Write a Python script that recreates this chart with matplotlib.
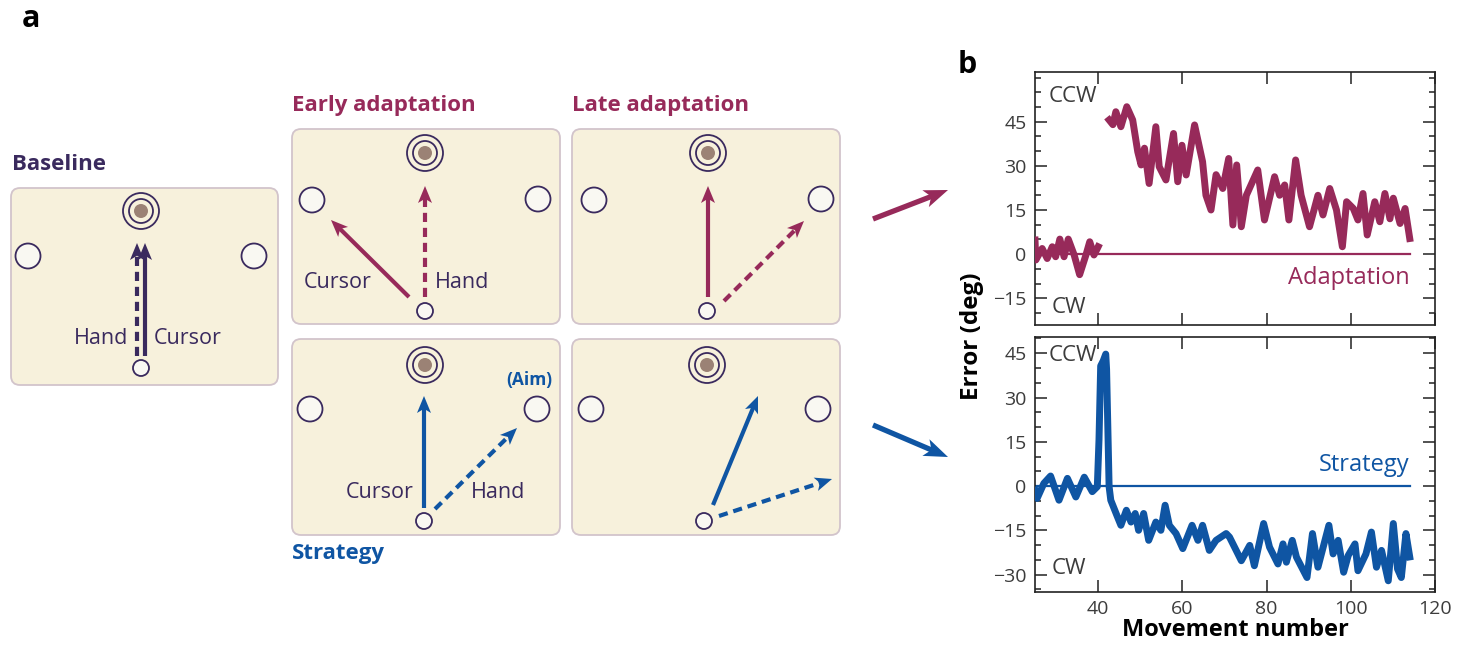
import matplotlib
matplotlib.use("Agg")
import matplotlib.pyplot as plt
import numpy as np
from matplotlib.patches import FancyBboxPatch, Circle, Polygon
from matplotlib.ticker import MultipleLocator

plt.rcParams['font.family'] = ['Open Sans', 'DejaVu Sans']

# ---------------- data (panel b) ----------------
adapt_base_x = [25.0, 25.2, 26.7, 27.9, 29.1, 29.9, 30.9, 31.9, 32.9, 34.3, 35.6, 37.1, 38.0, 39.0, 39.8, 40.0]
adapt_base_y = [4.8, -2.0, 1.9, -1.5, 2.5, -0.9, 5.1, -0.9, 5.1, -0.3, -7.0, -0.3, 4.2, -0.3, 1.9, 2.5]

adapt_x = [42.6, 43.5, 44.2, 45.4, 46.8, 48.2, 49.4, 50.2, 51.0, 52.1, 53.7, 54.5, 56.1, 57.9, 58.9,
           59.9, 60.9, 62.9, 64.8, 65.6, 66.8, 68.0, 69.6, 71.0, 72.0, 72.9, 74.0, 75.2, 77.9,
           79.5, 81.9, 83.1, 84.3, 85.3, 86.9, 88.2, 90.2, 92.2, 93.4, 95.0, 96.6, 98.0, 99.0,
           100.6, 101.7, 102.9, 103.9, 105.7, 106.9, 108.1, 109.3, 110.1, 111.7, 112.9, 114.0]
adapt_y = [45.6, 44.0, 48.4, 43.3, 50.1, 45.6, 34.8, 30.3, 36.0, 24.0, 43.3, 29.7, 25.2, 41.0, 24.6,
           37.0, 26.9, 43.9, 31.4, 20.0, 15.0, 27.0, 22.3, 32.5, 9.9, 30.3, 9.3, 20.0, 28.6,
           11.6, 26.3, 20.0, 23.5, 11.6, 32.0, 20.0, 9.3, 20.0, 13.3, 22.3, 15.0, 2.5, 17.8,
           15.5, 11.6, 20.6, 6.5, 17.8, 11.0, 20.6, 12.0, 19.0, 10.4, 15.5, 5.3]

strat_x = [25.0, 25.5, 27.1, 28.7, 30.7, 32.7, 34.7, 36.7, 38.6, 39.8, 40.2, 40.6, 41.2, 41.8, 42.0,
           42.6, 43.0, 44.6, 45.4, 46.7, 47.8, 48.8, 49.6, 50.8, 52.0, 53.7, 54.9, 55.9, 56.9,
           58.5, 60.1, 62.3, 63.7, 64.8, 66.4, 68.0, 70.4, 71.2, 73.2, 74.0, 76.0, 77.1, 79.3,
           80.7, 82.7, 83.9, 84.7, 86.1, 87.1, 89.6, 90.9, 92.2, 94.8, 95.8, 97.0, 98.3, 99.4,
           101.0, 101.7, 103.6, 104.9, 106.1, 107.3, 108.9, 110.1, 111.1, 112.0, 113.1, 114.0]
strat_y = [-1.4, -4.2, 0.9, 3.4, -4.8, 2.6, -3.7, 3.0, -1.9, -0.2, 15.7, 40.7, 42.4, 44.7, 39.6,
           -0.2, -4.8, -10.5, -13.3, -8.2, -12.2, -9.3, -15.0, -9.3, -18.4, -12.2, -15.0, -6.5, -13.3,
           -16.1, -21.2, -13.3, -18.4, -13.3, -21.8, -18.4, -16.1, -17.3, -23.0, -25.3, -20.1, -27.0, -12.7,
           -20.7, -26.4, -19.6, -25.8, -18.4, -24.1, -31.0, -16.1, -27.5, -13.3, -23.0, -18.4, -29.2, -23.5,
           -19.6, -28.7, -23.0, -15.6, -27.5, -21.8, -32.1, -12.7, -28.1, -31.0, -16.1, -24.0]

zero_x = [25, 114]
zero_y = [0, 0]

top_yticks = [-15, 0, 15, 30, 45]
bot_yticks = [-30, -15, 0, 15, 30, 45]
xticks = [40, 60, 80, 100, 120]

# ---------------- colours ----------------
PURPLE = '#3a2a5e'
MAROON = '#972a5a'
BLUE = '#0f55a3'
BOXFILL = '#f7f1dc'
BOXEDGE = '#d2c4cb'
CIRCFILL = '#f9f8f2'
BROWN = '#9b8275'
GRAY = '#3c3c3c'

W, H = 1459, 652
fig = plt.figure(figsize=(W / 100, H / 100), dpi=100)

# ---------------- panel a (diagram, pixel coordinates) ----------------
axa = fig.add_axes([0, 0, 1, 1])
axa.set_xlim(0, W)
axa.set_ylim(H, 0)
axa.set_axis_off()


def arrow(ax, x0, y0, x1, y1, color, dashed=False, lw=3.0, hl=17, hw=14):
    d = np.array([x1 - x0, y1 - y0], float)
    L = np.hypot(*d)
    u = d / L
    n = np.array([-u[1], u[0]])
    tip = np.array([x1, y1], float)
    base = tip - u * hl
    send = tip - u * hl * 0.7
    if dashed:
        ax.plot([x0, send[0]], [y0, send[1]], color=color, lw=lw, dashes=(2.2, 1.4),
                solid_capstyle='butt', dash_capstyle='butt', zorder=4)
    else:
        ax.plot([x0, send[0]], [y0, send[1]], color=color, lw=lw,
                solid_capstyle='butt', zorder=4)
    notch = tip - u * hl * 0.75
    pts = [tip, base + n * hw / 2, notch, base - n * hw / 2]
    ax.add_patch(Polygon(pts, closed=True, facecolor=color, edgecolor='none', zorder=5))


def box(ax, x0, y0, x1, y1):
    ax.add_patch(FancyBboxPatch((x0, y0), x1 - x0, y1 - y0,
                                boxstyle="round,pad=0,rounding_size=9",
                                facecolor=BOXFILL, edgecolor=BOXEDGE, lw=1.3, zorder=1))


def target(ax, x, y):
    ax.add_patch(Circle((x, y), 18, facecolor=BOXFILL, edgecolor=PURPLE, lw=1.3, zorder=2))
    ax.add_patch(Circle((x, y), 12, facecolor=BOXFILL, edgecolor=PURPLE, lw=1.3, zorder=2))
    ax.add_patch(Circle((x, y), 7, facecolor=BROWN, edgecolor='none', zorder=3))


def side(ax, x, y, r=12.5):
    ax.add_patch(Circle((x, y), r, facecolor=CIRCFILL, edgecolor=PURPLE, lw=1.3, zorder=2))


panels = [
    dict(box=(11, 188, 278, 385), tgt=(141, 211), sl=(28, 256), sr=(254, 256), st=(141, 368)),
    dict(box=(292, 129, 560, 324), tgt=(425, 153), sl=(312, 200), sr=(538, 199), st=(425, 311)),
    dict(box=(572, 129, 840, 324), tgt=(708, 153), sl=(594, 200), sr=(821, 199), st=(707, 311)),
    dict(box=(292, 339, 560, 535), tgt=(425, 365), sl=(310, 409), sr=(537, 409), st=(424, 521)),
    dict(box=(572, 339, 840, 535), tgt=(707, 365), sl=(591, 409), sr=(818, 409), st=(704, 521)),
]
for p in panels:
    box(axa, *p['box'])
    target(axa, *p['tgt'])
    side(axa, *p['sl'])
    side(axa, *p['sr'])
    side(axa, *p['st'], r=8)

arrow(axa, 137, 356, 137, 243, PURPLE, dashed=True)
arrow(axa, 145, 356, 145, 243, PURPLE)
arrow(axa, 425, 297, 425, 186, MAROON, dashed=True)
arrow(axa, 409, 297, 331, 220, MAROON)
arrow(axa, 708, 297, 708, 186, MAROON)
arrow(axa, 724, 301, 804, 221, MAROON, dashed=True)
arrow(axa, 424, 508, 424, 396, BLUE)
arrow(axa, 435, 509, 517, 428, BLUE, dashed=True)
arrow(axa, 713, 505, 758, 396, BLUE)
arrow(axa, 719, 516, 832, 479, BLUE, dashed=True)
arrow(axa, 873, 219, 948, 190, MAROON, lw=3.8, hl=24, hw=18)
arrow(axa, 873, 425, 948, 457, BLUE, lw=3.8, hl=24, hw=18)

TFS = 16
LFS = 15.5
axa.text(22, 19, 'a', fontsize=22, fontweight='bold', color='black', va='center', ha='left')
axa.text(12, 165, 'Baseline', fontsize=TFS, fontweight='bold', color=PURPLE, va='center')
axa.text(292, 105, 'Early adaptation', fontsize=TFS, fontweight='bold', color=MAROON, va='center')
axa.text(572, 105, 'Late adaptation', fontsize=TFS, fontweight='bold', color=MAROON, va='center')
axa.text(292, 553, 'Strategy', fontsize=TFS, fontweight='bold', color=BLUE, va='center')
axa.text(529, 380, '(Aim)', fontsize=12.5, fontweight='bold', color=BLUE, va='center', ha='center')

axa.text(128, 339, 'Hand', fontsize=LFS, color=PURPLE, va='center', ha='right')
axa.text(154, 339, 'Cursor', fontsize=LFS, color=PURPLE, va='center', ha='left')
axa.text(304, 283, 'Cursor', fontsize=LFS, color=PURPLE, va='center', ha='left')
axa.text(435, 283, 'Hand', fontsize=LFS, color=PURPLE, va='center', ha='left')
axa.text(414, 493, 'Cursor', fontsize=LFS, color=PURPLE, va='center', ha='right')
axa.text(471, 493, 'Hand', fontsize=LFS, color=PURPLE, va='center', ha='left')
axa.text(958, 65, 'b', fontsize=22, fontweight='bold', color='black', va='center', ha='left')

# ---------------- panel b ----------------
Lf = 1035 / W
Wd = 400 / W
ax1 = fig.add_axes([Lf, 1 - 325 / H, Wd, 253 / H])
ax2 = fig.add_axes([Lf, 1 - 592 / H, Wd, 255 / H])

for ax in (ax1, ax2):
    ax.set_xlim(25, 120)
    ax.set_xticks(xticks)
    ax.yaxis.set_minor_locator(MultipleLocator(5))
    ax.tick_params(axis='both', which='both', direction='in', top=True, right=True,
                   colors='#222222', labelcolor=GRAY, labelsize=14, pad=6)
    ax.tick_params(which='major', length=8.5, width=1.1)
    ax.tick_params(which='minor', length=4.3, width=1.1)
    for s in ax.spines.values():
        s.set_linewidth(1.2)
        s.set_color('#222222')

ax1.set_ylim(-24.1, 61.9)
ax1.set_yticks(top_yticks)
ax1.set_yticklabels(['\u221215', '0', '15', '30', '45'])
ax1.tick_params(labelbottom=False)
ax1.plot(zero_x, zero_y, color=MAROON, lw=1.6, zorder=2)
ax1.plot(adapt_base_x, adapt_base_y, color=MAROON, lw=5, solid_joinstyle='round', zorder=3)
ax1.plot(adapt_x, adapt_y, color=MAROON, lw=5, solid_joinstyle='round', zorder=3)
ax1.text(28.2, 53.7, 'CCW', fontsize=16, color=GRAY, va='center', ha='left')
ax1.text(29.0, -18.0, 'CW', fontsize=16, color=GRAY, va='center', ha='left')
ax1.text(114, -8.2, 'Adaptation', fontsize=17, color=MAROON, va='center', ha='right')

ax2.set_ylim(-35.9, 50.5)
ax2.set_yticks(bot_yticks)
ax2.set_yticklabels(['\u221230', '\u221215', '0', '15', '30', '45'])
ax2.plot(zero_x, zero_y, color=BLUE, lw=1.6, zorder=2)
ax2.plot(strat_x, strat_y, color=BLUE, lw=5, solid_joinstyle='round', zorder=3)
ax2.text(28.2, 44.4, 'CCW', fontsize=16, color=GRAY, va='center', ha='left')
ax2.text(29.0, -28.0, 'CW', fontsize=16, color=GRAY, va='center', ha='left')
ax2.text(114, 7.2, 'Strategy', fontsize=17, color=BLUE, va='center', ha='right')
ax2.set_xlabel('Movement number', fontsize=17, fontweight='bold', labelpad=0)

fig.text(972 / W, 1 - 336 / H, 'Error (deg)', fontsize=17.5, fontweight='bold',
         rotation=90, va='center', ha='center')

fig.savefig('out.png', dpi=100)
